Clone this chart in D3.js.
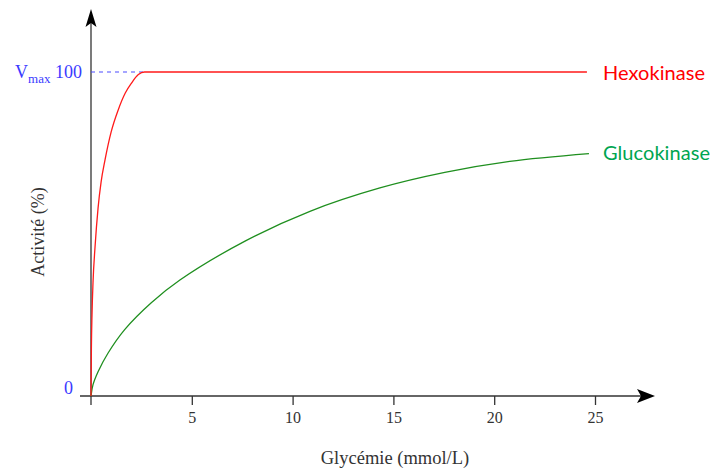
<!DOCTYPE html>
<html>
<head>
<meta charset="utf-8">
<script src="https://cdn.jsdelivr.net/npm/d3@7"></script>
<style>
  body { margin: 0; background: #fff; }
  svg { display: block; }
</style>
</head>
<body>
<div id="chart"></div>
<script>
// glucose (mmol/L) vs activity (%)
const hexoX = [0, 0.02, 0.05, 0.1, 0.2, 0.35, 0.5, 0.7, 1.0, 1.35, 1.7, 2.0, 2.35, 2.65, 24.6];
const hexoY = [0, 15, 25, 35, 46, 58, 66, 73, 81.5, 88.3, 93.5, 96.5, 99.2, 100, 100];
const glucoX = [0, 0.1, 0.35, 0.84, 1.67, 2.99, 4.41, 7.64, 10.86, 14.33, 17.55, 20.77, 24.7];
const glucoY = [0, 3.5, 7.5, 13.2, 20.5, 28.8, 35.8, 47.8, 57.0, 64.2, 69.0, 72.4, 74.8];
const xTicks = [5, 10, 15, 20, 25];

const width = 712, height = 469;
const svg = d3.select("#chart")
    .append("svg")
    .attr("width", width)
    .attr("height", height);

const x = d3.scaleLinear().domain([0, 25]).range([91, 595]);
const y = d3.scaleLinear().domain([0, 100]).range([396, 72]);

const serif = "'Liberation Serif', 'Times New Roman', serif";
const axisColor = "#333";

// x axis
svg.append("line")
    .attr("x1", 80).attr("x2", 650)
    .attr("y1", y(0)).attr("y2", y(0))
    .attr("stroke", axisColor)
    .attr("stroke-width", 1.3);
svg.append("path")
    .attr("d", "M655,396 L637,389 L641,396 L637,403 Z")
    .attr("fill", "#000");

// y axis
svg.append("line")
    .attr("x1", x(0)).attr("x2", x(0))
    .attr("y1", 405).attr("y2", 14)
    .attr("stroke", axisColor)
    .attr("stroke-width", 1.3);
svg.append("path")
    .attr("d", "M91,9 L85.5,27 L91,23 L96.5,27 Z")
    .attr("fill", "#000");

// ticks
const xAxis = d3.axisBottom(x)
    .tickValues(xTicks)
    .tickSize(9)
    .tickPadding(7)
    .tickFormat(d3.format("d"));
const gx = svg.append("g")
    .attr("transform", `translate(0,${y(0)})`)
    .call(xAxis);
gx.select(".domain").remove();
gx.selectAll(".tick line").attr("stroke", axisColor).attr("stroke-width", 1.3);
gx.selectAll(".tick text")
    .attr("fill", "#333")
    .style("font-family", serif)
    .style("font-size", "16px");

// Vmax dashed line
svg.append("line")
    .attr("x1", x(0)).attr("x2", x(2.6))
    .attr("y1", y(100)).attr("y2", y(100))
    .attr("stroke", "#4d4dff")
    .attr("stroke-width", 1.2)
    .attr("stroke-dasharray", "4,4");

// curves
const greenLine = d3.line()
    .x(d => x(d[0]))
    .y(d => y(d[1]))
    .curve(d3.curveCatmullRom.alpha(0.5));
const redLine = d3.line()
    .x(d => x(d[0]))
    .y(d => y(d[1]))
    .curve(d3.curveMonotoneX);

svg.append("path")
    .datum(d3.zip(glucoX, glucoY))
    .attr("d", greenLine)
    .attr("fill", "none")
    .attr("stroke", "#1f8f1f")
    .attr("stroke-width", 1.3);

svg.append("path")
    .datum(d3.zip(hexoX, hexoY))
    .attr("d", redLine)
    .attr("fill", "none")
    .attr("stroke", "#ff1a1a")
    .attr("stroke-width", 1.3);

// y labels
const vmax = svg.append("text")
    .attr("x", 82)
    .attr("y", y(100) + 6)
    .attr("text-anchor", "end")
    .attr("fill", "#3a3aff")
    .style("font-family", serif)
    .style("font-size", "18px");
vmax.append("tspan").text("V");
vmax.append("tspan").attr("dy", 5).style("font-size", "13px").text("max");
vmax.append("tspan").attr("dy", -5).text(" 100");

svg.append("text")
    .attr("x", 73)
    .attr("y", y(0) - 2)
    .attr("text-anchor", "end")
    .attr("fill", "#3a3aff")
    .style("font-family", serif)
    .style("font-size", "18px")
    .text("0");

// axis titles
svg.append("text")
    .attr("transform", "translate(44,232) rotate(-90)")
    .attr("text-anchor", "middle")
    .attr("fill", "#333")
    .style("font-family", serif)
    .style("font-size", "18px")
    .text("Activité (%)");

svg.append("text")
    .attr("x", 395)
    .attr("y", 464)
    .attr("text-anchor", "middle")
    .attr("fill", "#333")
    .style("font-family", serif)
    .style("font-size", "18.5px")
    .text("Glycémie (mmol/L)");

// curve names
svg.append("text")
    .attr("x", 603)
    .attr("y", 80)
    .attr("fill", "#ff0000")
    .attr("textLength", 102)
    .style("font-family", "Lato, sans-serif")
    .style("font-size", "20px")
    .text("Hexokinase");

svg.append("text")
    .attr("x", 603)
    .attr("y", 160)
    .attr("fill", "#00a550")
    .attr("textLength", 107)
    .style("font-family", "Lato, sans-serif")
    .style("font-size", "20px")
    .text("Glucokinase");
</script>
</body>
</html>
